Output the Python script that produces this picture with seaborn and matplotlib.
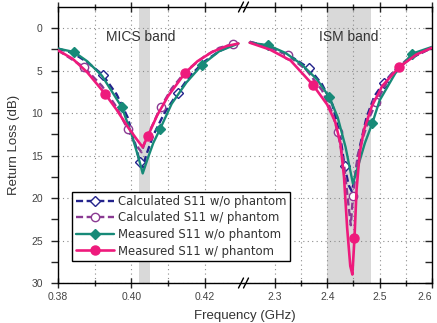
import numpy as np
import pandas as pd
import matplotlib.pyplot as plt
import seaborn as sns
from matplotlib.lines import Line2D

# values (frequency in GHz, return loss in dB)
# MICS part (left panel)
mics_calc_wo_x = [0.380, 0.384, 0.388, 0.3922, 0.396, 0.399, 0.401, 0.4023, 0.4032, 0.404, 0.406, 0.409, 0.4127, 0.416, 0.420, 0.424, 0.4285]
mics_calc_wo_y = [2.4, 2.9, 4.0, 5.5, 7.8, 10.5, 13.5, 15.8, 16.4, 15.0, 12.6, 10.0, 7.6, 5.6, 3.9, 2.7, 1.8]
mics_calc_w_x = [0.380, 0.3871, 0.392, 0.396, 0.399, 0.401, 0.4028, 0.404, 0.406, 0.408, 0.411, 0.415, 0.420, 0.424, 0.4276, 0.4292]
mics_calc_w_y = [2.6, 4.6, 6.8, 9.3, 11.9, 13.6, 14.6, 13.0, 11.2, 9.3, 7.1, 5.0, 3.3, 2.3, 1.9, 1.8]
mics_meas_wo_x = [0.380, 0.3844, 0.388, 0.392, 0.3974, 0.400, 0.402, 0.4031, 0.4045, 0.406, 0.4078, 0.411, 0.415, 0.4193, 0.424, 0.4292]
mics_meas_wo_y = [2.4, 2.8, 3.9, 5.6, 9.3, 12.4, 15.3, 17.1, 15.3, 13.5, 11.9, 8.9, 6.4, 4.3, 2.7, 1.8]
mics_meas_w_x = [0.380, 0.384, 0.388, 0.3928, 0.396, 0.399, 0.4015, 0.4031, 0.4045, 0.407, 0.410, 0.4146, 0.418, 0.422, 0.426, 0.4292]
mics_meas_w_y = [2.6, 3.6, 5.2, 7.7, 9.6, 11.6, 13.1, 14.0, 12.7, 10.3, 8.0, 5.3, 3.9, 2.8, 2.1, 1.8]

# ISM part (right panel)
ism_calc_wo_x = [2.252, 2.29, 2.33, 2.365, 2.39, 2.41, 2.425, 2.433, 2.441, 2.447, 2.453, 2.462, 2.475, 2.49, 2.508, 2.53, 2.56, 2.60]
ism_calc_wo_y = [1.6, 2.2, 3.3, 4.7, 6.6, 9.0, 12.8, 16.2, 18.5, 19.2, 17.5, 14.0, 10.5, 8.0, 6.4, 4.9, 3.5, 2.3]
ism_calc_w_x = [2.252, 2.29, 2.325, 2.36, 2.39, 2.41, 2.42, 2.432, 2.440, 2.445, 2.449, 2.458, 2.47, 2.482, 2.494, 2.52, 2.55, 2.60]
ism_calc_w_y = [1.6, 2.2, 3.2, 4.9, 7.3, 10.0, 12.2, 16.0, 20.5, 23.2, 19.8, 15.0, 12.5, 10.3, 8.7, 5.6, 3.8, 2.3]
ism_meas_wo_x = [2.252, 2.287, 2.32, 2.35, 2.38, 2.404, 2.42, 2.435, 2.449, 2.46, 2.472, 2.486, 2.50, 2.53, 2.562, 2.60]
ism_meas_wo_y = [1.7, 2.0, 2.9, 4.2, 6.0, 8.1, 10.5, 14.0, 18.3, 16.0, 13.5, 11.2, 8.5, 5.3, 3.0, 2.2]
ism_meas_w_x = [2.252, 2.29, 2.33, 2.373, 2.40, 2.415, 2.425, 2.432, 2.438, 2.444, 2.448, 2.452, 2.456, 2.462, 2.47, 2.485, 2.505, 2.537, 2.57, 2.60]
ism_meas_w_y = [1.7, 2.5, 3.8, 6.7, 9.0, 11.0, 13.5, 17.5, 23.5, 28.0, 29.0, 24.7, 19.0, 14.7, 12.0, 9.2, 6.8, 4.6, 3.1, 2.3]

labels = ['Calculated S11 w/o phantom', 'Calculated S11 w/ phantom',
          'Measured S11 w/o phantom', 'Measured S11 w/ phantom']

# which points carry a marker
mics_marks = [[3, 7, 12], [1, 4, 9, 14], [1, 4, 10, 13], [3, 8, 11]]
ism_marks = [[3, 7, 14], [2, 6, 10, 14], [1, 5, 11, 14], [3, 11, 17]]

mics = [(mics_calc_wo_x, mics_calc_wo_y), (mics_calc_w_x, mics_calc_w_y),
        (mics_meas_wo_x, mics_meas_wo_y), (mics_meas_w_x, mics_meas_w_y)]
ism = [(ism_calc_wo_x, ism_calc_wo_y), (ism_calc_w_x, ism_calc_w_y),
       (ism_meas_wo_x, ism_meas_wo_y), (ism_meas_w_x, ism_meas_w_y)]

styles = [
    dict(color='#23238c', ls=(0, (3, 1.5)), marker='D', mfc='white', ms=5.5, lw=1.7),
    dict(color='#8a3a92', ls=(0, (3, 1.5)), marker='o', mfc='white', ms=6, lw=1.7),
    dict(color='#178a78', ls='-', marker='D', mfc='#178a78', ms=5.5, lw=1.7),
    dict(color='#ee1a7c', ls='-', marker='o', mfc='#ee1a7c', ms=6.5, lw=1.9),
]

sns.set_style("white")
plt.rcParams['font.family'] = ['Liberation Sans', 'DejaVu Sans']

fig = plt.figure(figsize=(4.37, 3.23), dpi=100)
ax1 = fig.add_axes([58/437, 40/323, 187/437, 276/323])
ax2 = fig.add_axes([245/437, 40/323, 187/437, 276/323])

for ax, data, marks in [(ax1, mics, mics_marks), (ax2, ism, ism_marks)]:
    for (x, y), st, idx, lab in zip(data, styles, marks, labels):
        sns.lineplot(x=x, y=y, ax=ax, color=st['color'], linestyle=st['ls'],
                     linewidth=st['lw'], marker=st['marker'], markevery=idx,
                     markersize=st['ms'], markerfacecolor=st['mfc'],
                     markeredgecolor=st['color'], markeredgewidth=1.0,
                     estimator=None, sort=False, label=lab, zorder=3)
    if ax.get_legend() is not None:
        ax.get_legend().remove()

# shaded bands
ax1.axvspan(0.402, 0.405, color='#d9d9d9', zorder=0, lw=0)
ax2.axvspan(2.4, 2.4835, color='#d9d9d9', zorder=0, lw=0)

ax1.set_xlim(0.38, 0.431)
ax2.set_xlim(2.243, 2.6)
ax1.set_xticks([0.38, 0.40, 0.42])
ax1.set_xticks([0.39, 0.41], minor=True)
ax1.set_xticklabels(['0.38', '0.40', '0.42'])
ax2.set_xticks([2.3, 2.4, 2.5, 2.6])
ax2.set_xticks([2.35, 2.45, 2.55], minor=True)
ax2.set_xticklabels(['2.3', '2.4', '2.5', '2.6'])

for ax in (ax1, ax2):
    ax.set_ylim(30, -2.5)
    ax.set_yticks([0, 5, 10, 15, 20, 25, 30])
    ax.set_yticks([2.5, 7.5, 12.5, 17.5, 22.5, 27.5], minor=True)
    ax.grid(True, which='both', axis='x', ls=(0, (1, 3)), color='#8c8c8c', lw=0.8)
    ax.grid(True, which='major', axis='y', ls=(0, (1, 3)), color='#8c8c8c', lw=0.8)
    ax.set_xlabel('')
    ax.set_ylabel('')
    for s in ax.spines.values():
        s.set_color('black')
        s.set_linewidth(1.0)
    ax.tick_params(axis='x', which='both', direction='inout', top=True, bottom=True,
                   length=7, width=1, labelsize=7.5, labelcolor='#444444', pad=3)
    ax.tick_params(axis='x', which='minor', length=5)

ax1.spines['right'].set_visible(False)
ax2.spines['left'].set_visible(False)
ax1.tick_params(axis='y', which='both', direction='out', left=True, right=False,
                length=5, width=1, labelsize=7.5, labelcolor='#444444', pad=6)
ax2.tick_params(axis='y', which='both', direction='in', left=False, right=True,
                labelleft=False, length=5, width=1)

# the last tick label sits on the figure edge; keep it inside
ax2.get_xticklabels()[-1].set_horizontalalignment('right')

ax1.text(0.4026, 1.06, 'MICS band', ha='center', va='center', fontsize=10, color='#333333')
ax2.text(2.44, 1.06, 'ISM band', ha='center', va='center', fontsize=10, color='#333333')

ax1.set_ylabel('Return Loss (dB)', fontsize=9.5, color='#333333', labelpad=8)
fig.text(245/437, 1 - 316/323, 'Frequency (GHz)', ha='center', va='center',
         fontsize=9.5, color='#333333')

# break marks on the x axis
for ypix in (7, 283):
    for dx in (-4, 1):
        x0 = (245 + dx - 2.5) / 437
        x1 = (245 + dx + 2.5) / 437
        y0 = 1 - (ypix + 5) / 323
        y1 = 1 - (ypix - 5) / 323
        fig.add_artist(Line2D([x0, x1], [y0, y1], transform=fig.transFigure,
                              color='black', lw=1.0))

handles, labs = ax1.get_legend_handles_labels()
leg = fig.legend(handles, labs, loc='lower left',
                 bbox_to_anchor=(72/437, 1 - 261/323),
                 prop={'family': 'DejaVu Sans', 'size': 8.4},
                 frameon=True, fancybox=False, edgecolor='black', framealpha=1,
                 handlelength=3.3, handletextpad=0.3, borderpad=0.3,
                 labelspacing=0.3, borderaxespad=0)
leg.get_frame().set_linewidth(1.0)
for t in leg.get_texts():
    t.set_color('#333333')

plt.savefig('out.png', dpi=100)
